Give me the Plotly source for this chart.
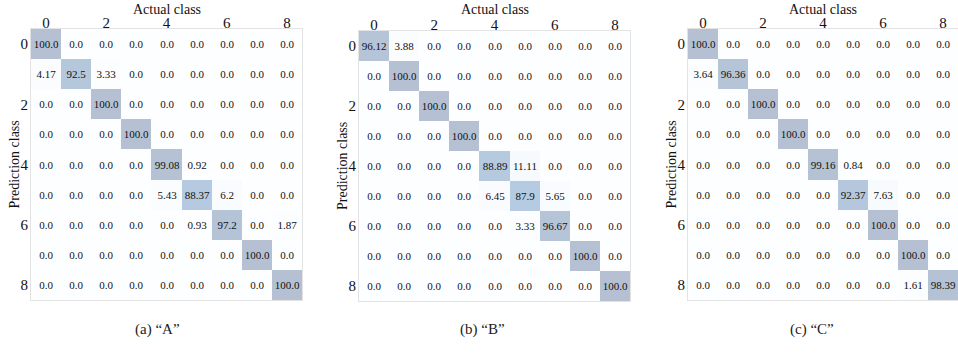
import plotly.graph_objects as go

# Confusion matrices (rows: prediction class, columns: actual class), in percent
classes = list(range(9))
tick_vals = [0, 2, 4, 6, 8]

matrix_a = [
    [100.0, 0.0, 0.0, 0.0, 0.0, 0.0, 0.0, 0.0, 0.0],
    [4.17, 92.5, 3.33, 0.0, 0.0, 0.0, 0.0, 0.0, 0.0],
    [0.0, 0.0, 100.0, 0.0, 0.0, 0.0, 0.0, 0.0, 0.0],
    [0.0, 0.0, 0.0, 100.0, 0.0, 0.0, 0.0, 0.0, 0.0],
    [0.0, 0.0, 0.0, 0.0, 99.08, 0.92, 0.0, 0.0, 0.0],
    [0.0, 0.0, 0.0, 0.0, 5.43, 88.37, 6.2, 0.0, 0.0],
    [0.0, 0.0, 0.0, 0.0, 0.0, 0.93, 97.2, 0.0, 1.87],
    [0.0, 0.0, 0.0, 0.0, 0.0, 0.0, 0.0, 100.0, 0.0],
    [0.0, 0.0, 0.0, 0.0, 0.0, 0.0, 0.0, 0.0, 100.0],
]

matrix_b = [
    [96.12, 3.88, 0.0, 0.0, 0.0, 0.0, 0.0, 0.0, 0.0],
    [0.0, 100.0, 0.0, 0.0, 0.0, 0.0, 0.0, 0.0, 0.0],
    [0.0, 0.0, 100.0, 0.0, 0.0, 0.0, 0.0, 0.0, 0.0],
    [0.0, 0.0, 0.0, 100.0, 0.0, 0.0, 0.0, 0.0, 0.0],
    [0.0, 0.0, 0.0, 0.0, 88.89, 11.11, 0.0, 0.0, 0.0],
    [0.0, 0.0, 0.0, 0.0, 6.45, 87.9, 5.65, 0.0, 0.0],
    [0.0, 0.0, 0.0, 0.0, 0.0, 3.33, 96.67, 0.0, 0.0],
    [0.0, 0.0, 0.0, 0.0, 0.0, 0.0, 0.0, 100.0, 0.0],
    [0.0, 0.0, 0.0, 0.0, 0.0, 0.0, 0.0, 0.0, 100.0],
]

matrix_c = [
    [100.0, 0.0, 0.0, 0.0, 0.0, 0.0, 0.0, 0.0, 0.0],
    [3.64, 96.36, 0.0, 0.0, 0.0, 0.0, 0.0, 0.0, 0.0],
    [0.0, 0.0, 100.0, 0.0, 0.0, 0.0, 0.0, 0.0, 0.0],
    [0.0, 0.0, 0.0, 100.0, 0.0, 0.0, 0.0, 0.0, 0.0],
    [0.0, 0.0, 0.0, 0.0, 99.16, 0.84, 0.0, 0.0, 0.0],
    [0.0, 0.0, 0.0, 0.0, 0.0, 92.37, 7.63, 0.0, 0.0],
    [0.0, 0.0, 0.0, 0.0, 0.0, 0.0, 100.0, 0.0, 0.0],
    [0.0, 0.0, 0.0, 0.0, 0.0, 0.0, 0.0, 100.0, 0.0],
    [0.0, 0.0, 0.0, 0.0, 0.0, 0.0, 0.0, 1.61, 98.39],
]

captions = ["(a) \u201cA\u201d", "(b) \u201cB\u201d", "(c) \u201cC\u201d"]

W, H = 958, 354
FONT = "'Times New Roman', 'Liberation Serif', 'DejaVu Serif', serif"

# "Blues" scale faded toward white (30% opacity look)
blues = [(247, 251, 255), (222, 235, 247), (198, 219, 239), (158, 202, 225),
         (107, 174, 214), (66, 146, 198), (33, 113, 181), (8, 81, 156), (8, 48, 107)]
alpha = 0.3
faded = []
for i, (r, g, b) in enumerate(blues):
    mix = [round(c * alpha + 255 * (1 - alpha)) for c in (r, g, b)]
    faded.append([i / (len(blues) - 1), "rgb({},{},{})".format(*mix)])

# Panel placement in pixels: (left, right, top, bottom)
panels = [(31, 302, 29, 300), (359, 630, 31, 301), (688, 958, 29, 300)]
matrices = [matrix_a, matrix_b, matrix_c]

fig = go.Figure()
annotations = []
for k, (mat, (l, r, t, b)) in enumerate(zip(matrices, panels)):
    idx = "" if k == 0 else str(k + 1)
    fig.add_trace(go.Heatmap(
        z=mat, x=classes, y=classes,
        text=[[str(v) for v in row] for row in mat],
        texttemplate="%{text}",
        textfont=dict(family=FONT, size=11, color="#111111"),
        colorscale=faded, zmin=0, zmax=100, showscale=False,
        xaxis="x" + idx, yaxis="y" + idx, hoverinfo="skip",
    ))
    xd = [l / W, r / W]
    yd = [1 - b / H, 1 - t / H]
    fig.update_layout(**{
        "xaxis" + idx: dict(
            domain=xd, side="top", tickvals=tick_vals, range=[-0.5, 8.5],
            showgrid=False, zeroline=False, ticks="", ticklabelstandoff=-6,
            showline=True, mirror=True, linecolor="#e3e3e3", linewidth=1,
            tickfont=dict(family=FONT, size=15, color="#111111"),
            anchor="y" + idx,
        ),
        "yaxis" + idx: dict(
            domain=yd, tickvals=tick_vals, range=[8.5, -0.5],
            showgrid=False, zeroline=False, ticks="", ticklabelstandoff=-1,
            showline=True, mirror=True, linecolor="#e3e3e3", linewidth=1,
            tickfont=dict(family=FONT, size=15, color="#111111"),
            anchor="x" + idx,
        ),
    })
    cx = (l + r) / 2 / W
    annotations.append(dict(
        text="Actual class", x=cx, y=1 - 10 / H, xref="paper", yref="paper",
        showarrow=False, xanchor="center", yanchor="middle",
        font=dict(family=FONT, size=14, color="#111111"),
    ))
    annotations.append(dict(
        text="Prediction class", x=(l - 17) / W, y=1 - (t + b) / 2 / H,
        xref="paper", yref="paper", showarrow=False, textangle=-90,
        xanchor="center", yanchor="middle",
        font=dict(family=FONT, size=14, color="#111111"),
    ))

caption_x = [157, 483, 812]
for cap, x in zip(captions, caption_x):
    annotations.append(dict(
        text=cap, x=x / W, y=1 - 329 / H, xref="paper", yref="paper",
        showarrow=False, xanchor="center", yanchor="middle",
        font=dict(family=FONT, size=15, color="#222222"),
    ))

fig.update_layout(
    width=W, height=H, margin=dict(l=0, r=0, t=0, b=0),
    paper_bgcolor="white", plot_bgcolor="white",
    annotations=annotations, showlegend=False,
)

fig.write_html("out.html")
